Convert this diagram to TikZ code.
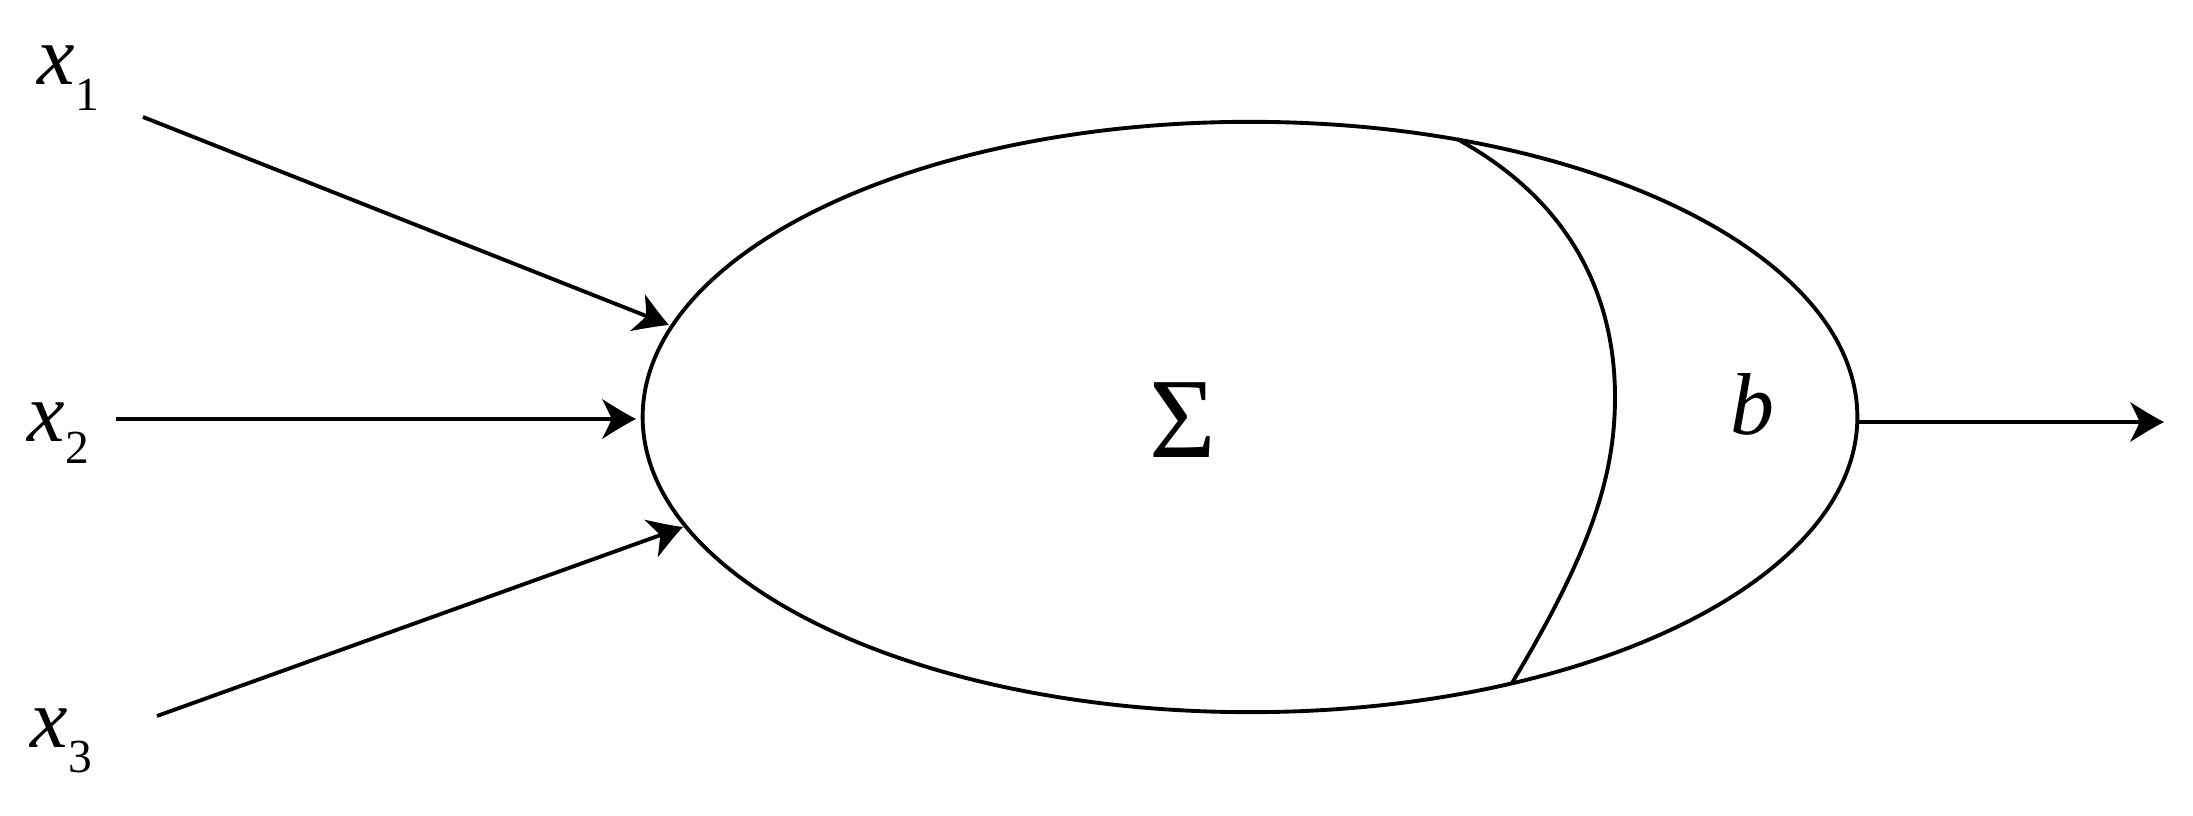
\documentclass[tikz,border=0pt]{standalone}
\usepackage{fontspec}
\setmainfont{Liberation Serif}
\usetikzlibrary{shapes.geometric,arrows.meta}

\pgfdeclarearrow{
  name = CurvedHead,
  parameters = {\the\pgfarrowlength,\the\pgfarrowwidth},
  setup code = {
    \pgfarrowssettipend{0pt}
    \pgfarrowssetbackend{-\pgfarrowlength}
    \pgfarrowssetlineend{-0.5\pgfarrowlength}
    \pgfarrowsupperhullpoint{0pt}{0pt}
    \pgfarrowsupperhullpoint{-\pgfarrowlength}{0.5\pgfarrowwidth}
    \pgfarrowssavethe\pgfarrowlength
    \pgfarrowssavethe\pgfarrowwidth
  },
  drawing code = {
    \pgfpathmoveto{\pgfpoint{0pt}{0pt}}
    \pgfpathcurveto{\pgfpoint{-0.35\pgfarrowlength}{0.15\pgfarrowwidth}}{\pgfpoint{-0.68\pgfarrowlength}{0.33\pgfarrowwidth}}{\pgfpoint{-\pgfarrowlength}{0.5\pgfarrowwidth}}
    \pgfpathcurveto{\pgfpoint{-0.85\pgfarrowlength}{0.25\pgfarrowwidth}}{\pgfpoint{-0.75\pgfarrowlength}{0.08\pgfarrowwidth}}{\pgfpoint{-0.72\pgfarrowlength}{0pt}}
    \pgfpathcurveto{\pgfpoint{-0.75\pgfarrowlength}{-0.08\pgfarrowwidth}}{\pgfpoint{-0.85\pgfarrowlength}{-0.25\pgfarrowwidth}}{\pgfpoint{-\pgfarrowlength}{-0.5\pgfarrowwidth}}
    \pgfpathcurveto{\pgfpoint{-0.68\pgfarrowlength}{-0.33\pgfarrowwidth}}{\pgfpoint{-0.35\pgfarrowlength}{-0.15\pgfarrowwidth}}{\pgfpoint{0pt}{0pt}}
    \pgfpathclose
    \pgfusepathqfill
  },
  defaults = {length = 0.34cm, width = 0.40cm}
}

\tikzset{
  lw/.style={line width=1.1pt},
  conn/.style={lw, -{CurvedHead}},
  lbl/.style={inner sep=0pt, anchor=base west, font=\fontsize{24}{28}\selectfont}
}
\newcommand{\lblx}[2]{\textit{x}\raisebox{-#2}{\fontsize{13.5}{14}\selectfont #1}}

\begin{document}
\begin{tikzpicture}[x=0.01cm,y=-0.01cm]
  \useasboundingbox (0,0) rectangle (2193,816);

  % main body
  \node[lw, draw, ellipse, minimum width=12.14cm, minimum height=5.90cm, inner sep=0pt] (body) at (1250,417) {};

  % inner curve
  \coordinate (ctop) at (1457,139);
  \coordinate (cmid) at (1615,397);
  \coordinate (cbot) at (1512,683);
  \draw[lw] (ctop) .. controls (1587,210) and (1615,317) .. (cmid)
                   .. controls (1615,477) and (1590,553) .. (cbot);

  % labels
  \node[lbl] (lx1) at (37,85) {\lblx{1}{7.2pt}};
  \node[lbl] (lx2) at (27,442) {\lblx{2}{6.2pt}};
  \node[lbl] (lx3) at (30,748) {\lblx{3}{7.0pt}};
  \node[inner sep=0pt, font=\fontsize{32.5}{36}\selectfont] (sig) at (1183,420) {Σ};
  \node[inner sep=0pt, anchor=base, font=\fontsize{25}{28}\selectfont\itshape] (lb) at (1752,435) {b};

  % input connectors
  \coordinate (s1) at (143,117);
  \coordinate (t1) at (669,325);
  \coordinate (s2) at (116,419);
  \coordinate (t2) at (636,419);
  \coordinate (s3) at (157,716);
  \coordinate (t3) at (683,527);
  \draw[conn] (s1) -- (t1);
  \draw[conn] (s2) -- (t2);
  \draw[conn] (s3) -- (t3);

  % output connector
  \coordinate (o0) at (1857,422);
  \coordinate (o1) at (2164,422);
  \draw[conn] (o0) -- (o1);
\end{tikzpicture}
\end{document}
